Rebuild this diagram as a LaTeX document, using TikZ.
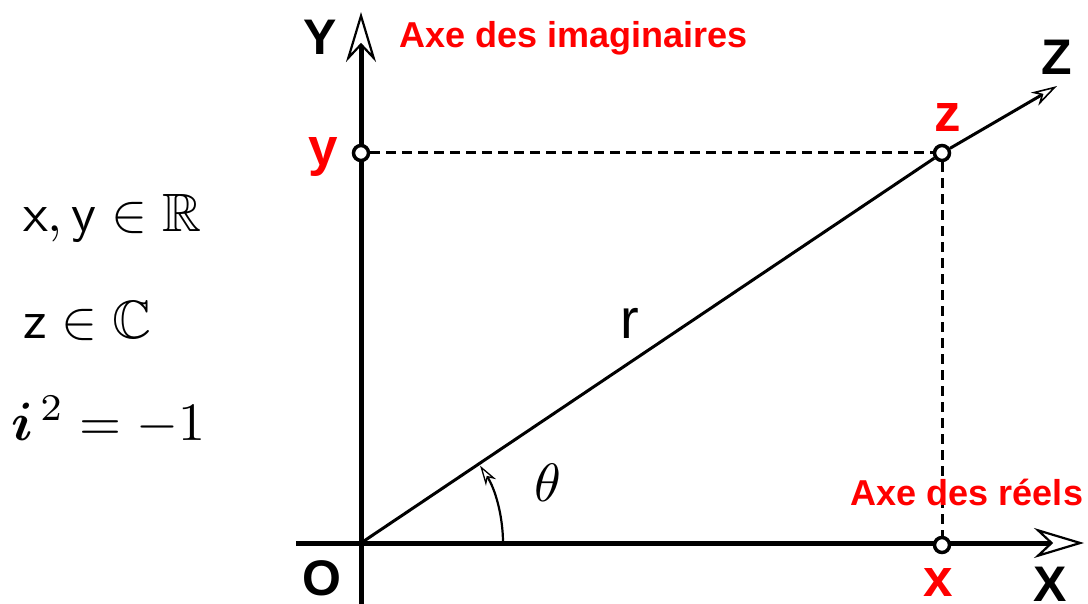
\documentclass[tikz,border=0pt]{standalone}
\usepackage{amsmath,amssymb,bm}
\usepackage{fontspec}
\newfontfamily\lab{Liberation Sans}
\usetikzlibrary{arrows.meta}
\definecolor{lred}{RGB}{255,0,0}
\begin{document}
\begin{tikzpicture}[x=1pt,y=-1pt,
  axis/.style={line width=5pt},
  dashline/.style={line width=3pt, dash pattern=on 10pt off 6pt},
  ptmark/.style={circle, draw, fill=white, line width=3.5pt, inner sep=0pt, minimum size=15pt},
  biglab/.style={font=\lab\bfseries\fontsize{50}{60}\selectfont, inner sep=0pt},
  redlab/.style={font=\lab\bfseries\fontsize{53}{62}\selectfont, text=lred, inner sep=0pt},
  axelab/.style={font=\lab\bfseries\fontsize{36}{42}\selectfont, text=lred, inner sep=0pt},
  mathlab/.style={scale=5.4, inner sep=0pt, anchor=base west},
]
\useasboundingbox (0,0) rectangle (1088,604);
% key coordinates
\coordinate (O) at (361,543);
\coordinate (Ybot) at (361,610);
\coordinate (Ytip) at (361,12);
\coordinate (Xleft) at (296,543);
\coordinate (Xtip) at (1084,543);
\coordinate (Ztip) at (1057,86);
\coordinate (arcstart) at (503,543);
% axes
\draw[axis, -{Stealth[fill=white, length=50pt, width=30pt, inset=16pt, line width=2.2pt]}] (Ybot) -- (Ytip);
\draw[axis, -{Stealth[fill=white, length=50pt, width=30pt, inset=16pt, line width=2.2pt]}] (Xleft) -- (Xtip);
% points
\node[ptmark] (py) at (361,153) {};
\node[ptmark] (pz) at (942,153) {};
\node[ptmark] (px) at (942,545) {};
% dashed projections
\draw[dashline] (py) -- (pz);
\draw[dashline] (pz) -- (px);
% radius line
\draw[line width=3pt] (O) -- (pz);
\draw[line width=3pt, -{Stealth[fill=white, length=26pt, width=15pt, inset=8pt, line width=1.6pt]}] (pz) -- (Ztip);
% angle arc
\draw[line width=2.2pt, -{Stealth[fill=white, length=20pt, width=12pt, inset=6pt, line width=1.3pt]}] (arcstart) arc[start angle=0, end angle=-33, radius=142];
% axis labels
\node[biglab] (lY) at (320,37) {Y};
\node[biglab] (lZ) at (1057,57) {Z};
\node[biglab] (lO) at (322,578) {O};
\node[biglab] (lX) at (1050,584) {X};
\node[axelab, anchor=west] (ima) at (399,38) {Axe des imaginaires};
\node[axelab] (ree) at (967,492) {Axe des réels};
% point labels
\node[redlab, anchor=base] (ly) at (323,166) {y};
\node[redlab] (lz) at (948,118) {z};
\node[redlab] (lx) at (938,582) {x};
\node[font=\lab\fontsize{56}{64}\selectfont, inner sep=0pt] (lr) at (630,323) {r};
\node[scale=5.4, inner sep=0pt] (lth) at (548,483) {$\theta$};
% formulas
\node[mathlab] (f1) at (22,232) {$\mathsf{x},\mathsf{y}\in\mathbb{R}$};
\node[mathlab] (f2) at (22,338) {$\mathsf{z}\in\mathbb{C}$};
\node[mathlab] (f3) at (10,440) {$\bm{i}^{\,2}=-1$};
\end{tikzpicture}
\end{document}
